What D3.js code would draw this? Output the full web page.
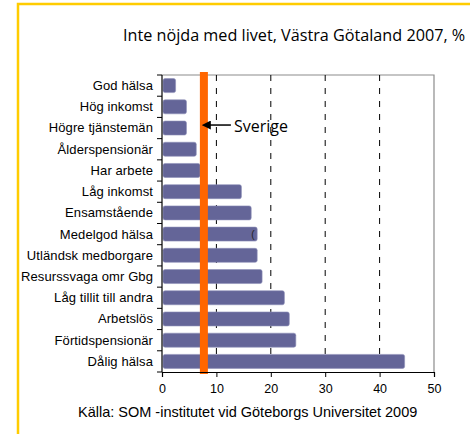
<!DOCTYPE html>
<html>
<head>
<meta charset="utf-8">
<script src="https://cdn.jsdelivr.net/npm/d3@7"></script>
<style>
  html, body { margin: 0; padding: 0; background: #ffffff; }
  svg { display: block; }
</style>
</head>
<body>
<div id="chart"></div>
<script>
const categories = [
  "God hälsa", "Hög inkomst", "Högre tjänstemän", "Ålderspensionär", "Har arbete",
  "Låg inkomst", "Ensamstående", "Medelgod hälsa", "Utländsk medborgare",
  "Resurssvaga omr Gbg", "Låg tillit till andra", "Arbetslös", "Förtidspensionär", "Dålig hälsa"
];
const values = [2.5, 4.5, 4.5, 6.3, 7.0, 14.6, 16.4, 17.5, 17.5, 18.4, 22.5, 23.4, 24.6, 44.6];
const sverigeValue = [7.7];
const xTicks = [0, 10, 20, 30, 40, 50];
const titleText = "Inte nöjda med livet, Västra Götaland 2007, %";
const sourceText = "Källa: SOM -institutet vid Göteborgs Universitet 2009";
const refLabel = "Sverige";

const W = 470, H = 434;
const plot = { left: 162, right: 434, top: 75, bottom: 372 };

const svg = d3.select("#chart").append("svg").attr("width", W).attr("height", H);

// yellow frame
svg.append("rect")
  .attr("x", 18).attr("y", 4).attr("width", 470).attr("height", 440)
  .attr("fill", "none").attr("stroke", "#FFCC00").attr("stroke-width", 2.5);

const x = d3.scaleLinear().domain([0, 50]).range([plot.left, plot.right]);
const y = d3.scaleBand().domain(categories).range([plot.top, plot.bottom])
  .paddingInner(0.34).paddingOuter(0.17);

// plot border (top & right)
svg.append("path")
  .attr("d", `M${plot.left},${plot.top}H${plot.right}V${plot.bottom}`)
  .attr("fill", "none").attr("stroke", "#8c8c8c").attr("stroke-width", 1.2);

// gridlines
svg.append("g").selectAll("line").data(xTicks.filter(t => t > 0 && t < 50)).join("line")
  .attr("x1", d => x(d)).attr("x2", d => x(d))
  .attr("y1", plot.top).attr("y2", plot.bottom)
  .attr("stroke", "#000").attr("stroke-width", 1).attr("stroke-dasharray", "6,7");

// bars
svg.append("g").selectAll("rect").data(categories).join("rect")
  .attr("x", x(0) + 1)
  .attr("y", d => y(d))
  .attr("width", (d, i) => x(values[i]) - x(0) - 1)
  .attr("height", y.bandwidth())
  .attr("rx", 2)
  .attr("fill", "#646598")
  .attr("stroke", "#8f90b8").attr("stroke-width", 0.6);

// stray glyph near Medelgod hälsa
svg.append("text")
  .attr("x", x(values[7]) - 6).attr("y", y(categories[7]) + y.bandwidth() / 2 + 4)
  .attr("font-family", "Liberation Sans, Arial, sans-serif").attr("font-size", 10)
  .attr("fill", "#222").text("(");

// Sverige reference line
svg.append("rect")
  .attr("x", x(sverigeValue[0]) - 4).attr("y", plot.top - 3)
  .attr("width", 8).attr("height", plot.bottom - plot.top + 5)
  .attr("fill", "#FF6600");

// x axis
const xAxis = d3.axisBottom(x).tickValues(xTicks).tickSize(5).tickPadding(7).tickFormat(d3.format("d"));
const gx = svg.append("g").attr("transform", `translate(0,${plot.bottom})`).call(xAxis);
gx.select(".domain").attr("stroke", "#000").attr("stroke-width", 1.2);
gx.selectAll(".tick line").attr("stroke", "#000");
gx.selectAll("text").attr("font-family", "Liberation Sans, Arial, sans-serif")
  .attr("font-size", 12.5).attr("fill", "#000");

// y axis
const yAxis = d3.axisLeft(y).tickSize(0).tickPadding(9);
const gy = svg.append("g").attr("transform", `translate(${plot.left},0)`).call(yAxis);
gy.select(".domain").remove();
gy.selectAll("text").attr("font-family", "Liberation Sans, Arial, sans-serif")
  .attr("font-size", 13).attr("fill", "#000").attr("dy", "0.34em").attr("letter-spacing", "0.1");
svg.append("line").attr("x1", plot.left).attr("x2", plot.left)
  .attr("y1", plot.top).attr("y2", plot.bottom).attr("stroke", "#000").attr("stroke-width", 1.2);
svg.append("g").selectAll("line").data(d3.range(categories.length + 1)).join("line")
  .attr("x1", plot.left - 5).attr("x2", plot.left)
  .attr("y1", i => plot.top + i * y.step()).attr("y2", i => plot.top + i * y.step())
  .attr("stroke", "#000");

// annotation arrow
const ay = y(categories[2]) + y.bandwidth() / 2 - 3;
svg.append("defs").append("marker")
  .attr("id", "arrow").attr("viewBox", "0 0 10 10").attr("refX", 1).attr("refY", 5)
  .attr("markerWidth", 6).attr("markerHeight", 6).attr("orient", "auto-start-reverse")
  .append("path").attr("d", "M0,0L10,5L0,10z").attr("fill", "#000");
svg.append("line")
  .attr("x1", x(sverigeValue[0]) + 27).attr("x2", x(sverigeValue[0]) + 6)
  .attr("y1", ay).attr("y2", ay)
  .attr("stroke", "#000").attr("stroke-width", 1.5)
  .attr("marker-end", "url(#arrow)");
svg.append("text")
  .attr("x", 234).attr("y", ay + 7)
  .attr("font-family", "Open Sans, sans-serif").attr("font-size", 16)
  .attr("fill", "#000").text(refLabel);

// title
svg.append("text")
  .attr("x", 123).attr("y", 41)
  .attr("font-family", "Open Sans, sans-serif").attr("font-size", 16.2)
  .attr("fill", "#000").text(titleText);

// source
svg.append("text")
  .attr("x", 78).attr("y", 417)
  .attr("font-family", "Liberation Sans, Arial, sans-serif").attr("font-size", 14.5)
  .attr("fill", "#000").text(sourceText);
</script>
</body>
</html>
